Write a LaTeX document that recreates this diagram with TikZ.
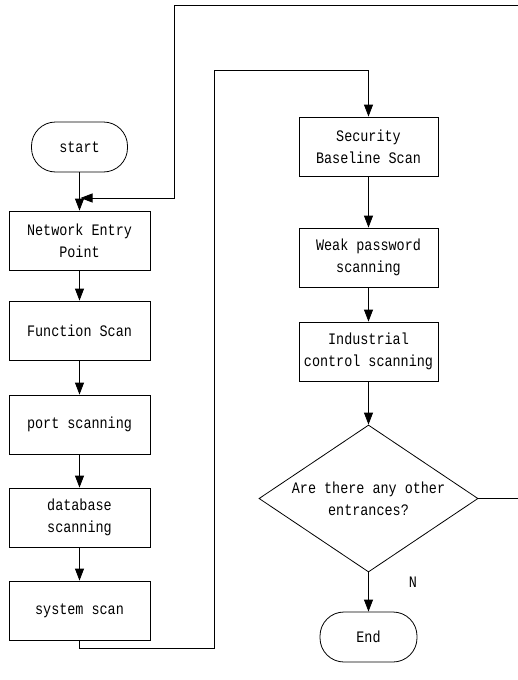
\documentclass[tikz,border=0pt]{standalone}
\usepackage{fontspec}
\newfontfamily\flowfont[FakeStretch=0.84]{Liberation Mono}
\usepackage{tikz}
\usetikzlibrary{arrows.meta}
\usetikzlibrary{shapes.geometric}

\begin{document}
\begin{tikzpicture}[x=1pt, y=-1pt,
    every node/.style={font=\flowfont\fontsize{16}{22}\selectfont, align=center},
    stepbox/.style={draw, line width=0.8pt, minimum width=141pt, minimum height=59pt, inner sep=0pt},
    termbox/.style={draw, line width=0.8pt, rounded corners=24pt, minimum width=96pt, minimum height=50pt, inner sep=0pt},
    askbox/.style={draw, diamond, line width=0.8pt, aspect=1.49, minimum width=219pt, minimum height=147pt, inner sep=0pt},
    flow/.style={line width=0.8pt, -{Triangle[width=9pt,length=12pt]}}]
          \useasboundingbox (0,0) rectangle (518,680);

          \node [termbox] (start) at (79.5,147) {start}; % left column
          \node [stepbox] (entry) at (79.5,240.5) {Network Entry\\Point};
          \node [stepbox] (func) at (79.5,330.5) {Function Scan};
          \node [stepbox] (port) at (79.5,424.5) {port scanning};
          \node [stepbox] (db) at (79.5,517.5) {database\\scanning};
          \node [stepbox] (sys) at (79.5,610.5) {system scan};

          \node [stepbox, minimum width=139pt] (base) at (368.5,146.5) {Security\\Baseline Scan}; % right column
          \node [stepbox, minimum width=139pt] (weak) at (368.5,257.5) {Weak password\\scanning};
          \node [stepbox, minimum width=139pt] (ind) at (368.5,351.5) {Industrial\\control scanning};
          \node [askbox] (other) at (368.5,498.5) {Are there any other\\entrances?};
          \node [termbox, minimum width=97pt] (stop) at (368.5,637) {End};
          \node (no) at (413,582) {N};

          \coordinate (merge) at (80.5,198);
          \coordinate (loopA) at (521,5);
          \coordinate (loopB) at (174,198);
          \coordinate (bendA) at (214,648);
          \coordinate (bendB) at (214,70);

          \draw [flow] (start) -- (entry);
          \draw [flow] (entry) -- (func);
          \draw [flow] (func) -- (port);
          \draw [flow] (port) -- (db);
          \draw [flow] (db) -- (sys);

          \draw [flow] (sys.south) |- (bendA) -- (bendB) -| (base.north);

          \draw [flow] (base) -- (weak);
          \draw [flow] (weak) -- (ind);
          \draw [flow] (ind) -- (other);
          \draw [flow] (other) -- (stop);

          \draw [flow] (other.east) -| (loopA) -| (loopB) -- (merge);
        \end{tikzpicture}
\end{document}
